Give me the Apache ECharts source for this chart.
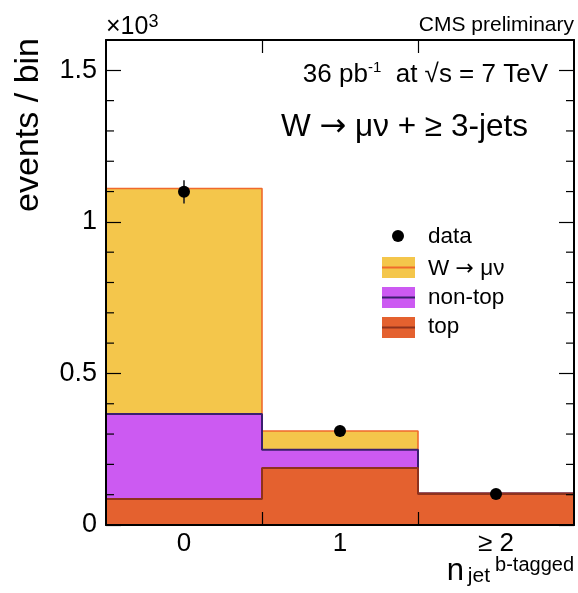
<!DOCTYPE html>
<html>
<head>
<meta charset="utf-8">
<script src="https://cdn.jsdelivr.net/npm/echarts@6/dist/echarts.min.js"></script>
<style>
  html, body { margin: 0; padding: 0; background: #fff; }
  #main { width: 578px; height: 593px; }
</style>
</head>
<body>
<div id="main"></div>
<script>
// bins of n_jet b-tagged
const categories = ["0", "1", "\u2265 2"];
const binEdges = [-0.5, 0.5, 1.5, 2.5];
// events per bin
const topEvents = [86, 188, 102];
const nonTopEvents = [280, 60, 2];
const wmunuEvents = [744, 62, 1];
const dataEvents = [1099, 310, 102];
const dataErrors = [38, 18, 10];
// y ticks (events)
const yMajorTicks = [0, 500, 1000, 1500];
const yMinorTicks = [100, 200, 300, 400, 600, 700, 800, 900, 1100, 1200, 1300, 1400];

const FONT = "Liberation Sans";
const ARROW_FONT = "DejaVu Sans";

// cumulative stacks like ROOT THStack
const cumTop = topEvents.slice();
const cumNonTop = topEvents.map((v, i) => v + nonTopEvents[i]);
const cumW = cumNonTop.map((v, i) => v + wmunuEvents[i]);

function steps(vals) {
  const pts = [];
  vals.forEach((v, i) => {
    pts.push([binEdges[i], v]);
    pts.push([binEdges[i + 1], v]);
  });
  return pts;
}

const chart = echarts.init(document.getElementById("main"));

function histSeries(name, vals, fill, line, lw, z) {
  return {
    name: name,
    type: "line",
    data: steps(vals),
    symbol: "none",
    z: z,
    lineStyle: { color: line, width: lw },
    areaStyle: { color: fill, opacity: 1, origin: "start" },
    itemStyle: { color: fill },
  };
}

function frameLine() {
  return { show: true, onZero: false, lineStyle: { color: "#000", width: 2 } };
}
function tickStyle() {
  return { color: "#000", width: 1.2 };
}

function yMajor(side, labels) {
  return {
    type: "value",
    min: 0,
    max: 1600,
    position: side,
    z: 10,
    splitLine: { show: false },
    axisLine: frameLine(),
    axisTick: { inside: true, length: 15, customValues: yMajorTicks, lineStyle: tickStyle() },
    axisLabel: labels
      ? {
          customValues: yMajorTicks,
          formatter: (v) => String(v / 1000),
          fontFamily: FONT,
          fontSize: 27,
          color: "#000",
          margin: 9,
        }
      : { show: false },
  };
}

const option = {
  animation: false,
  grid: { left: 106, top: 40, right: 4, bottom: 68 },
  xAxis: [
    {
      type: "value",
      min: -0.5,
      max: 2.5,
      position: "bottom",
      z: 10,
      splitLine: { show: false },
      axisLine: frameLine(),
      axisTick: { inside: true, length: 13, customValues: [0.5, 1.5], lineStyle: tickStyle() },
      axisLabel: {
        customValues: [0, 1, 2],
        formatter: (v) => categories[Math.round(v)],
        fontFamily: FONT,
        fontSize: 26,
        color: "#000",
        margin: 6,
      },
      name: "{n|n}{sub|jet}{sup|b-tagged}",
      nameLocation: "end",
      nameGap: 0,
      nameMoveOverlap: false,
      nameTextStyle: {
        align: "right",
        verticalAlign: "top",
        padding: [30, 0, 0, 0],
        rich: {
          n: { fontFamily: FONT, fontSize: 31, lineHeight: 32, color: "#000" },
          sub: { fontFamily: FONT, fontSize: 21, lineHeight: 10, verticalAlign: "bottom", padding: [0, 5, 0, 4], color: "#000" },
          sup: { fontFamily: FONT, fontSize: 20, lineHeight: 20, verticalAlign: "top", color: "#000" },
        },
      },
    },
    {
      type: "value",
      min: -0.5,
      max: 2.5,
      position: "top",
      z: 10,
      splitLine: { show: false },
      axisLine: frameLine(),
      axisTick: { inside: true, length: 13, customValues: [0.5, 1.5], lineStyle: tickStyle() },
      axisLabel: { show: false },
    },
  ],
  yAxis: [yMajor("left", true), yMajor("right", false)],
  series: [
    histSeries("W \u2192 \u03bc\u03bd", cumW, "#f4c64b", "#ef6a2c", 1.6, 1),
    histSeries("non-top", cumNonTop, "#cc5af2", "#3a1f6e", 2, 2),
    histSeries("top", cumTop, "#e4612f", "#8e321d", 2, 3),
    {
      name: "data",
      type: "custom",
      z: 12,
      data: dataEvents.map((v, i) => [i, v, dataErrors[i]]),
      renderItem: function (params, api) {
        const c = api.coord([api.value(0), api.value(1)]);
        const lo = api.coord([api.value(0), api.value(1) - api.value(2)]);
        const hi = api.coord([api.value(0), api.value(1) + api.value(2)]);
        return {
          type: "group",
          children: [
            { type: "line", shape: { x1: c[0], y1: lo[1], x2: c[0], y2: hi[1] }, style: { stroke: "#222", lineWidth: 1.6 } },
            { type: "circle", shape: { cx: c[0], cy: c[1], r: 6 }, style: { fill: "#000" } },
          ],
        };
      },
    },
    {
      // minor y ticks on both frame sides
      name: "minor ticks",
      type: "custom",
      z: 11,
      silent: true,
      data: yMinorTicks.map((v) => [binEdges[0], v]),
      renderItem: function (params, api) {
        const l = api.coord([binEdges[0], api.value(1)]);
        const r = api.coord([binEdges[binEdges.length - 1], api.value(1)]);
        return {
          type: "group",
          children: [
            { type: "line", shape: { x1: l[0], y1: l[1], x2: l[0] + 8, y2: l[1] }, style: { stroke: "#000", lineWidth: 1.2 } },
            { type: "line", shape: { x1: r[0] - 8, y1: r[1], x2: r[0], y2: r[1] }, style: { stroke: "#000", lineWidth: 1.2 } },
          ],
        };
      },
    },
  ],
  graphic: [
    {
      type: "text",
      x: 29,
      y: 38,
      rotation: Math.PI / 2,
      style: { text: "events / bin", fontFamily: FONT, fontSize: 34, fill: "#000", align: "right", verticalAlign: "middle" },
    },
    {
      type: "text",
      x: 106,
      y: 13,
      style: {
        text: "{a|\u00d710}{s|3}",
        align: "left",
        verticalAlign: "top",
        rich: {
          a: { fontFamily: FONT, fontSize: 25, lineHeight: 29, fill: "#000" },
          s: { fontFamily: FONT, fontSize: 18, lineHeight: 18, verticalAlign: "top", fill: "#000" },
        },
      },
    },
    {
      type: "text",
      x: 574,
      y: 25.5,
      style: { text: "CMS preliminary", fontFamily: FONT, fontSize: 21, fill: "#000", align: "right", verticalAlign: "middle" },
    },
    {
      type: "text",
      x: 548,
      y: 60,
      style: {
        text: "{t|36 pb}{s|-1}{t|  at \u221as = 7 TeV}",
        align: "right",
        verticalAlign: "top",
        rich: {
          t: { fontFamily: FONT, fontSize: 26, lineHeight: 30, fill: "#000" },
          s: { fontFamily: FONT, fontSize: 15, lineHeight: 15, verticalAlign: "top", fill: "#000" },
        },
      },
    },
    {
      type: "text",
      x: 281,
      y: 127.5,
      style: {
        text: "{t|W }{a|\u2192}{t| \u03bc\u03bd + \u2265 3-jets}",
        align: "left",
        verticalAlign: "middle",
        rich: {
          t: { fontFamily: FONT, fontSize: 31.5, fill: "#000" },
          a: { fontFamily: ARROW_FONT, fontSize: 32, fill: "#000" },
        },
      },
    },
    // legend
    { type: "circle", shape: { cx: 398, cy: 236, r: 6 }, style: { fill: "#000" } },
    { type: "text", x: 428, y: 237, style: { text: "data", fontFamily: FONT, fontSize: 22.5, fill: "#000", verticalAlign: "middle" } },
    { type: "rect", shape: { x: 382, y: 257, width: 33, height: 21 }, style: { fill: "#f4c64b" } },
    { type: "line", shape: { x1: 382, y1: 267.5, x2: 415, y2: 267.5 }, style: { stroke: "#ef6a2c", lineWidth: 2 } },
    {
      type: "text",
      x: 428,
      y: 269,
      style: {
        text: "{t|W }{a|\u2192}{t| \u03bc\u03bd}",
        verticalAlign: "middle",
        rich: {
          t: { fontFamily: FONT, fontSize: 22.5, fill: "#000" },
          a: { fontFamily: ARROW_FONT, fontSize: 22, fill: "#000" },
        },
      },
    },
    { type: "rect", shape: { x: 382, y: 287, width: 33, height: 21 }, style: { fill: "#cc5af2" } },
    { type: "line", shape: { x1: 382, y1: 297.5, x2: 415, y2: 297.5 }, style: { stroke: "#3a1f6e", lineWidth: 2 } },
    { type: "text", x: 428, y: 298, style: { text: "non-top", fontFamily: FONT, fontSize: 22.5, fill: "#000", verticalAlign: "middle" } },
    { type: "rect", shape: { x: 382, y: 317, width: 33, height: 21 }, style: { fill: "#e4612f" } },
    { type: "line", shape: { x1: 382, y1: 327.5, x2: 415, y2: 327.5 }, style: { stroke: "#8e321d", lineWidth: 2 } },
    { type: "text", x: 428, y: 327, style: { text: "top", fontFamily: FONT, fontSize: 22.5, fill: "#000", verticalAlign: "middle" } },
  ],
};

chart.setOption(option);
</script>
</body>
</html>
